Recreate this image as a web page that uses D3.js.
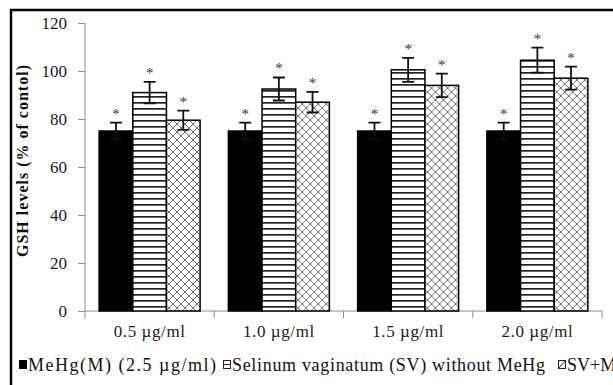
<html>
<head>
<script src="https://d3js.org/d3.v7.min.js"></script>
<style>
  body { margin: 0; background: #fff; }
  svg { font-family: "Liberation Serif", "DejaVu Serif", serif; }
  .axis path, .axis line { stroke: #8c8c8c; }
  .axis text { font-family: "Liberation Serif", serif; font-size: 17px; fill: #1a1a1a; }
</style>
</head>
<body>
<div id="chart"></div>
<script>
// data
var categories = ["0.5 \u00b5g/ml", "1.0 \u00b5g/ml", "1.5 \u00b5g/ml", "2.0 \u00b5g/ml"];
var seriesNames = ["MeHg(M) (2.5 \u00b5g/ml)", "Selinum vaginatum (SV) without MeHg", "SV+MeHg"];
var mehgValues = [75, 75, 75, 75];
var svValues = [91, 92.5, 100.5, 104.5];
var svmValues = [79.5, 87, 94, 97];
var mehgErr = [3.5, 3.5, 3.5, 3.5];
var svErr = [4.5, 4.8, 5, 5.2];
var svmErr = [4, 4.3, 4.9, 4.8];
var yTicks = [0, 20, 40, 60, 80, 100, 120];

var width = 613, height = 385;
var plotLeft = 85, plotRight = 602, plotTop = 23, plotBottom = 311;

var seriesValues = [mehgValues, svValues, svmValues];
var seriesErr = [mehgErr, svErr, svmErr];
var fills = ["#000", "url(#stripes)", "url(#cross)"];

var svg = d3.select("#chart").append("svg")
  .attr("width", width)
  .attr("height", height);

svg.append("rect").attr("width", width).attr("height", height).attr("fill", "#fff");

/* patterns */
var defs = svg.append("defs");
var stripes = defs.append("pattern")
  .attr("id", "stripes")
  .attr("patternUnits", "userSpaceOnUse")
  .attr("width", 8).attr("height", 6);
stripes.append("rect").attr("width", 8).attr("height", 6).attr("fill", "#fff");
stripes.append("rect").attr("y", 0).attr("width", 8).attr("height", 1.7).attr("fill", "#222");

var cross = defs.append("pattern")
  .attr("id", "cross")
  .attr("patternUnits", "userSpaceOnUse")
  .attr("width", 8).attr("height", 8);
cross.append("rect").attr("width", 8).attr("height", 8).attr("fill", "#fff");
cross.append("path").attr("d", "M0,0L8,8M8,0L0,8")
  .attr("stroke", "#707070").attr("stroke-width", 1).attr("fill", "none");

/* frame, cut off right and bottom like the picture */
svg.append("rect")
  .attr("x", 11).attr("y", 10)
  .attr("width", 800).attr("height", 600)
  .attr("fill", "none").attr("stroke", "#000").attr("stroke-width", 2.5);

/* scales */
var x = d3.scaleBand().domain(categories).range([plotLeft, plotRight]).paddingInner(0).paddingOuter(0);
var xSub = d3.scaleBand().domain(d3.range(3)).range([0, x.bandwidth()]).paddingInner(0).paddingOuter(0.42);
var y = d3.scaleLinear().domain([0, 120]).range([plotBottom, plotTop]);

/* axes */
svg.append("g")
  .attr("class", "axis")
  .attr("transform", "translate(" + plotLeft + ",0)")
  .call(d3.axisLeft(y).tickValues(yTicks).tickSize(7).tickPadding(11))
  .call(g => g.select(".domain").attr("d", "M0," + plotTop + "V" + (plotBottom + 7)));

var xAxis = svg.append("g")
  .attr("class", "axis")
  .attr("transform", "translate(0," + plotBottom + ")");
xAxis.append("line").attr("x1", plotLeft).attr("x2", plotRight).attr("y1", 0).attr("y2", 0);
xAxis.selectAll(".xt")
  .data(categories).enter()
  .append("line")
  .attr("x1", d => x(d) + x.bandwidth())
  .attr("x2", d => x(d) + x.bandwidth())
  .attr("y1", 0).attr("y2", 7);
xAxis.selectAll(".xl")
  .data(categories).enter()
  .append("text")
  .attr("x", d => x(d) + x.bandwidth() / 2)
  .attr("y", 26)
  .attr("text-anchor", "middle")
  .attr("letter-spacing", 0.6)
  .text(d => d);

/* bars */
var groups = svg.append("g").selectAll("g")
  .data(categories).enter()
  .append("g")
  .attr("transform", d => "translate(" + x(d) + ",0)");

seriesValues.forEach(function(vals, s) {
  groups.append("rect")
    .attr("x", xSub(s))
    .attr("width", xSub.bandwidth())
    .attr("y", (d, i) => y(vals[i]))
    .attr("height", (d, i) => plotBottom - y(vals[i]))
    .attr("fill", fills[s])
    .attr("stroke", "#000")
    .attr("stroke-width", 1.5);
});

/* error bars and stars */
seriesValues.forEach(function(vals, s) {
  var errs = seriesErr[s];
  var cx = xSub(s) + xSub.bandwidth() / 2;
  groups.append("path")
    .attr("d", (d, i) => {
      var t = y(vals[i] + errs[i]), b = y(vals[i] - errs[i]);
      return "M" + cx + "," + t + "V" + b + "M" + (cx - 6) + "," + t + "H" + (cx + 6) + "M" + (cx - 6) + "," + b + "H" + (cx + 6);
    })
    .attr("stroke", "#111").attr("stroke-width", 1.8).attr("fill", "none");
  groups.append("text")
    .attr("x", cx)
    .attr("y", (d, i) => y(vals[i] + errs[i]) - 4)
    .attr("text-anchor", "middle")
    .attr("font-size", 15)
    .attr("fill", "#333")
    .text("*");
});

/* y label */
svg.append("text")
  .attr("transform", "translate(28,161) rotate(-90)")
  .attr("text-anchor", "middle")
  .attr("font-size", 16)
  .attr("font-weight", "bold")
  .attr("fill", "#111")
  .attr("textLength", 192)
  .attr("lengthAdjust", "spacing")
  .text("GSH levels (% of contol)");

/* legend */
var legend = svg.append("g").attr("transform", "translate(0,371)");
var legX = [19, 223, 558];
var legW = [188, 313, null];
seriesNames.forEach(function(name, s) {
  var g = legend.append("g").attr("transform", "translate(" + legX[s] + ",0)");
  if (s === 0) {
    g.append("rect").attr("x", 0).attr("y", -11).attr("width", 8).attr("height", 9).attr("fill", "#000");
  } else {
    g.append("rect").attr("x", 0.5).attr("y", -10.5).attr("width", 7).attr("height", 8)
      .attr("fill", "#fff").attr("stroke", "#222").attr("stroke-width", 1);
    g.append("path")
      .attr("d", s === 1 ? "M0.5,-6.5H7.5" : "M0.5,-2.5L7.5,-10.5")
      .attr("stroke", "#222").attr("stroke-width", 1);
  }
  g.append("text")
    .attr("x", 9).attr("y", 0)
    .attr("font-size", 18)
    .attr("fill", "#111")
    .attr("textLength", legW[s])
    .attr("lengthAdjust", "spacing")
    .text(name);
});
</script>
</body>
</html>
